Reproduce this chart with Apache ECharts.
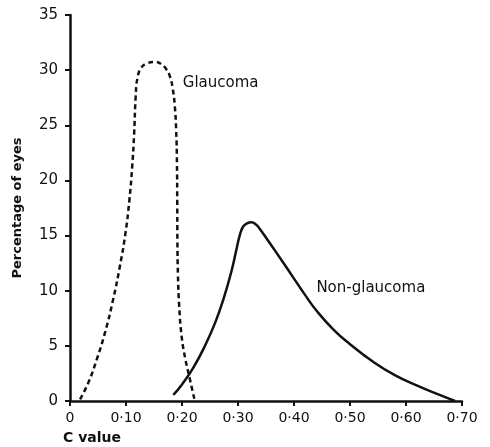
<!DOCTYPE html>
<html>
<head>
<meta charset="utf-8">
<script src="https://cdn.jsdelivr.net/npm/echarts@6/dist/echarts.min.js"></script>
<style>
  html, body { margin: 0; padding: 0; background: #fff; }
  #chart { width: 490px; height: 447px; }
</style>
</head>
<body>
<div id="chart"></div>
<script>
// values
var glaucomaX = [0.018, 0.033, 0.048, 0.063, 0.077, 0.089, 0.099, 0.106, 0.111, 0.1145, 0.1173, 0.1205, 0.127, 0.137, 0.152,
                 0.163, 0.171, 0.178, 0.1835, 0.1872, 0.1896, 0.191, 0.1915, 0.1918, 0.1928, 0.195, 0.1995, 0.206, 0.214, 0.222];
var glaucomaY = [0.15, 1.7, 3.8, 6.3, 9.2, 12.2, 15.2, 18.2, 21.2, 24.2, 27.6, 29.3, 30.2, 30.6, 30.75,
                 30.55, 30.15, 29.5, 28.3, 26.7, 24.5, 21.5, 18, 14.5, 11.4, 8.6, 5.8, 3.8, 2.0, 0.2];
var nonGlaucomaX = [0.1845, 0.20, 0.22, 0.24, 0.26, 0.275, 0.288, 0.297, 0.303, 0.309, 0.316, 0.324, 0.332, 0.339, 0.357,
                    0.38, 0.40, 0.42, 0.44, 0.47, 0.50, 0.54, 0.58, 0.62, 0.66, 0.6875];
var nonGlaucomaY = [0.55, 1.5, 3.0, 4.9, 7.2, 9.4, 11.7, 13.7, 15.0, 15.8, 16.1, 16.2, 16.0, 15.6, 14.3,
                    12.6, 11.1, 9.6, 8.2, 6.5, 5.15, 3.6, 2.35, 1.4, 0.55, 0];
var labelGlaucoma = 'Glaucoma';
var labelNonGlaucoma = 'Non-glaucoma';

var chart = document.getElementById('chart');
var myChart = echarts.init(chart);

function pairs(xs, ys) {
    return xs.map(function (x, i) { return [x, ys[i]]; });
}

var font = 'DejaVu Sans';
var ink = '#111';

option = {
    animation: false,
    backgroundColor: '#fff',
    grid: { left: 70, right: 28, top: 15, bottom: 46 },
    xAxis: {
        type: 'value',
        min: 0,
        max: 0.7,
        interval: 0.1,
        name: 'C value',
        nameLocation: 'start',
        nameGap: 7,
        nameTextStyle: {
            fontFamily: font, fontSize: 14, color: ink, fontWeight: 'bold',
            align: 'left', verticalAlign: 'top', padding: [30, 0, 0, 0]
        },
        axisLine: { lineStyle: { color: ink, width: 2.5 } },
        axisTick: { inside: false, length: 5, lineStyle: { color: ink, width: 2 } },
        splitLine: { show: false },
        axisLabel: {
            margin: 10,
            fontFamily: font, fontSize: 14, color: ink,
            formatter: function (v) {
                if (v === 0) return '0';
                return '0·' + Math.round(v * 100);
            }
        }
    },
    yAxis: {
        type: 'value',
        min: 0,
        max: 35,
        interval: 5,
        name: 'Percentage of eyes',
        nameLocation: 'middle',
        nameGap: 46,
        nameTextStyle: {
            fontFamily: font, fontSize: 13, color: ink, fontWeight: 'bold'
        },
        axisLine: { show: true, lineStyle: { color: ink, width: 2.5 } },
        axisTick: { show: true, length: 5, lineStyle: { color: ink, width: 2 } },
        splitLine: { show: false },
        axisLabel: { margin: 12, fontFamily: font, fontSize: 15, color: ink }
    },
    series: [
        {
            name: labelGlaucoma,
            type: 'line',
            smooth: 0.5,
            symbol: 'none',
            lineStyle: { color: ink, width: 2.5, type: [5, 3.5] },
            data: pairs(glaucomaX, glaucomaY),
            markPoint: {
                symbol: 'circle',
                symbolSize: 0,
                label: {
                    show: true, position: 'right', distance: 0,
                    fontFamily: font, fontSize: 15, color: ink,
                    formatter: labelGlaucoma
                },
                data: [{ coord: [0.2014, 28.8] }]
            }
        },
        {
            name: labelNonGlaucoma,
            type: 'line',
            smooth: 0.5,
            symbol: 'none',
            lineStyle: { color: ink, width: 2.5 },
            data: pairs(nonGlaucomaX, nonGlaucomaY),
            markPoint: {
                symbol: 'circle',
                symbolSize: 0,
                label: {
                    show: true, position: 'right', distance: 0,
                    fontFamily: font, fontSize: 15, color: ink,
                    formatter: labelNonGlaucoma
                },
                data: [{ coord: [0.44, 10.2] }]
            }
        }
    ]
};

myChart.setOption(option);
</script>
</body>
</html>
